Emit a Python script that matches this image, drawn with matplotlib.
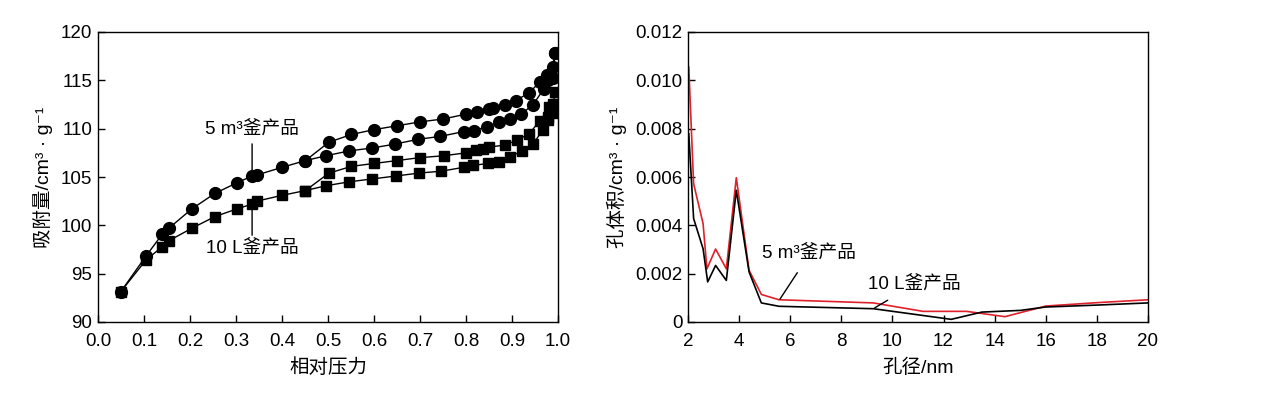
import matplotlib
matplotlib.use("Agg")
import matplotlib.pyplot as plt

plt.rcParams['font.family'] = ['Liberation Sans', 'Noto Sans CJK SC', 'DejaVu Sans']
plt.rcParams['font.size'] = 13.5

# 5 m3 product (circles): common low-pressure part, adsorption and desorption branches
p_common = [0.049, 0.104, 0.14, 0.154, 0.204, 0.254, 0.302, 0.335, 0.345, 0.40, 0.451]
v5_common = [93.1, 96.8, 99.1, 99.7, 101.7, 103.3, 104.4, 105.1, 105.2, 106.0, 106.7]
p5_ads = [0.451, 0.496, 0.546, 0.596, 0.645, 0.696, 0.744, 0.795, 0.817, 0.846, 0.872,
          0.896, 0.92, 0.946, 0.969, 0.978, 0.989, 0.993]
v5_ads = [106.7, 107.2, 107.7, 108.0, 108.4, 108.9, 109.2, 109.7, 109.8, 110.2, 110.7,
          111.0, 111.5, 112.5, 114.1, 115.0, 115.2, 117.8]
p5_des = [0.451, 0.502, 0.551, 0.60, 0.65, 0.70, 0.75, 0.80, 0.824, 0.85, 0.859, 0.884,
          0.908, 0.937, 0.96, 0.976, 0.989, 0.993]
v5_des = [106.7, 108.6, 109.4, 109.9, 110.3, 110.7, 111.0, 111.5, 111.7, 112.0, 112.1, 112.5,
          112.9, 113.7, 114.8, 115.6, 116.4, 117.8]

# 10 L product (squares)
v10_common = [93.1, 96.4, 97.8, 98.4, 99.7, 100.9, 101.7, 102.2, 102.5, 103.1, 103.6]
p10_ads = [0.451, 0.496, 0.546, 0.596, 0.647, 0.697, 0.746, 0.795, 0.815, 0.848, 0.872,
           0.896, 0.922, 0.946, 0.967, 0.978, 0.99, 0.993]
v10_ads = [103.6, 104.1, 104.5, 104.8, 105.1, 105.4, 105.6, 106.0, 106.2, 106.4, 106.6,
           107.1, 107.7, 108.4, 109.9, 110.9, 111.6, 112.6]
p10_des = [0.451, 0.502, 0.551, 0.60, 0.65, 0.699, 0.752, 0.80, 0.822, 0.836, 0.851, 0.884,
           0.911, 0.938, 0.96, 0.978, 0.98, 0.99, 0.993]
v10_des = [103.6, 105.4, 106.1, 106.4, 106.7, 107.0, 107.2, 107.5, 107.8, 107.9, 108.1, 108.3,
           108.8, 109.5, 110.8, 111.2, 112.2, 112.6, 113.8]

# pore size distribution
d_5m3 = [2.03, 2.22, 2.59, 2.74, 3.08, 3.5, 3.89, 4.39, 4.87, 5.56, 9.25, 11.2, 12.9, 14.4,
         16.0, 18.0, 20.0]
pv_5m3 = [0.01055, 0.00572, 0.00407, 0.0022, 0.00302, 0.0022, 0.00597, 0.00214, 0.00114,
          0.00092, 0.00079, 0.00044, 0.00044, 0.00022, 0.00066, 0.0008, 0.00092]
d_10l = [2.03, 2.22, 2.59, 2.77, 3.08, 3.5, 3.89, 4.39, 4.87, 5.56, 9.25, 12.3, 13.5, 15.0,
         16.0, 18.0, 20.0]
pv_10l = [0.00779, 0.00428, 0.00303, 0.00166, 0.00234, 0.00172, 0.00545, 0.00207, 0.00079,
          0.00065, 0.00055, 0.00011, 0.00041, 0.00048, 0.00062, 0.0007, 0.00079]

fig = plt.figure(figsize=(12.78, 3.94), dpi=100)
ax1 = fig.add_axes([98 / 1278, 72 / 394, 460 / 1278, 290 / 394])
ax2 = fig.add_axes([688 / 1278, 72 / 394, 460 / 1278, 290 / 394])

mk = dict(color='black', lw=1.0)
ax1.plot(p_common + p5_ads[1:], v5_common + v5_ads[1:], marker='o', ms=8.5, **mk)
ax1.plot(p5_des, v5_des, marker='o', ms=8.5, **mk)
ax1.plot(p_common + p10_ads[1:], v10_common + v10_ads[1:], marker='s', ms=7.5, **mk)
ax1.plot(p10_des, v10_des, marker='s', ms=7.5, **mk)

ax1.set_xlim(0, 1.0)
ax1.set_ylim(90, 120)
ax1.set_xticks([i / 10 for i in range(11)])
ax1.set_xticklabels([f"{i / 10:.1f}" for i in range(11)])
ax1.set_yticks(range(90, 121, 5))
ax1.set_xlabel('相对压力', fontsize=14, labelpad=6)
ax1.set_ylabel('吸附量/cm³ · g⁻¹', fontsize=14, labelpad=6)

lab = dict(fontsize=13.5, family=['Liberation Sans', 'Noto Sans CJK SC'])
ax1.annotate('5 m³釜产品', xy=(0.335, 105.3), xytext=(0.335, 109.0),
             ha='center', va='bottom', **lab,
             arrowprops=dict(arrowstyle='-', color='black', lw=1.0, shrinkA=2, shrinkB=0))
ax1.annotate('10 L釜产品', xy=(0.335, 102.4), xytext=(0.335, 98.4),
             ha='center', va='top', **lab,
             arrowprops=dict(arrowstyle='-', color='black', lw=1.0, shrinkA=2, shrinkB=0))

ax2.plot(d_5m3, pv_5m3, color='#e0202a', lw=1.2)
ax2.plot(d_10l, pv_10l, color='black', lw=1.2)
ax2.set_xlim(2, 20)
ax2.set_ylim(0, 0.012)
ax2.set_xticks(range(2, 21, 2))
ax2.set_yticks([0, 0.002, 0.004, 0.006, 0.008, 0.010, 0.012])
ax2.set_yticklabels(['0', '0.002', '0.004', '0.006', '0.008', '0.010', '0.012'])
ax2.set_xlabel('孔径/nm', fontsize=14, labelpad=6)
ax2.set_ylabel('孔体积/cm³ · g⁻¹', fontsize=14, labelpad=6)

ax2.annotate('5 m³釜产品', xy=(5.6, 0.00095), xytext=(6.75, 0.0028),
             ha='center', va='center', **lab,
             arrowprops=dict(arrowstyle='-', color='black', lw=1.0, shrinkA=6, shrinkB=0))
ax2.annotate('10 L釜产品', xy=(9.3, 0.00058), xytext=(10.85, 0.00155),
             ha='center', va='center', **lab,
             arrowprops=dict(arrowstyle='-', color='black', lw=1.0, shrinkA=6, shrinkB=0))

for ax in (ax1, ax2):
    ax.tick_params(direction='in', length=5, width=1.0, top=False, right=False, pad=4)
    ax.tick_params(axis='x', pad=8)
    for s in ax.spines.values():
        s.set_linewidth(1.0)

fig.savefig('out.png', dpi=100)
